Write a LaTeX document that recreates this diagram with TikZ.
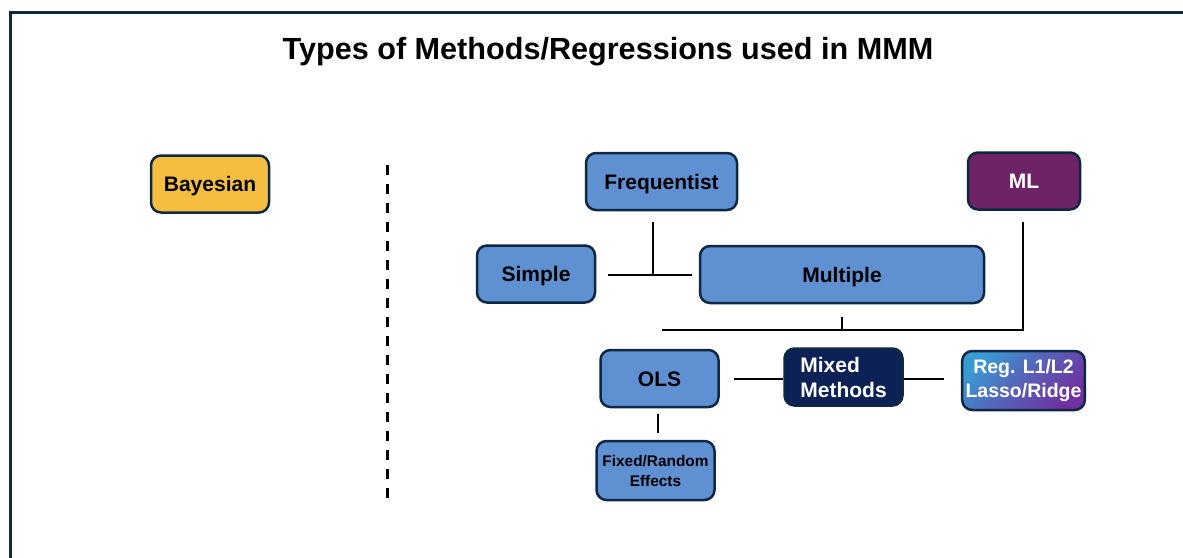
\documentclass[tikz,border=0pt]{standalone}
\usepackage{fontspec}
\setmainfont{Liberation Sans}
\usepackage{xcolor}
\usepackage{tikz}
\definecolor{navyline}{HTML}{0E2841}
\definecolor{boxblue}{HTML}{5E90D2}
\definecolor{bayesgold}{HTML}{F5BE41}
\definecolor{mlpurple}{HTML}{6E2366}
\definecolor{mixednavy}{HTML}{0C2256}
\definecolor{regblue}{HTML}{3A9BD3}
\definecolor{regpurple}{HTML}{7030A0}
\tikzstyle{base-box} = [rectangle, rounded corners=10pt,
minimum width=118pt,
minimum height=57pt,
line width=2.5pt,
text centered,
draw=navyline,
font=\bfseries\fontsize{21}{25}\selectfont]
\tikzstyle{one-line} = [text height=15pt, text depth=0pt]
\tikzstyle{blue-box} = [base-box, fill=boxblue]
\tikzstyle{gold-box} = [base-box, one-line, fill=bayesgold]
\tikzstyle{purple-box} = [base-box, one-line, fill=mlpurple, text=white]
\tikzstyle{navy-box} = [base-box, fill=mixednavy, text=white, align=left]
\tikzstyle{shaded-box} = [base-box, text=white, align=center,
top color=regblue, bottom color=regpurple, middle color=regblue!45!regpurple,
shading angle=45,
font=\bfseries\fontsize{19.5}{24}\selectfont]
\tikzstyle{small-box} = [blue-box, align=center,
font=\bfseries\fontsize{15.4}{20}\selectfont]
\tikzstyle{link} = [line width=2.5pt]
\tikzstyle{split} = [line width=3pt, dash pattern=on 10pt off 9pt]
\tikzstyle{frame} = [line width=3pt, draw=navyline]

\begin{document}
\begin{tikzpicture}[x=1pt, y=-1pt]
            \useasboundingbox (0,0) rectangle (1183,557);
            \begin{scope}
            \clip (0,0) rectangle (1183,557);
            \draw [frame] (10.5,12.5) rectangle (1250,650);
            \end{scope}

            \node (title) at (608,52) {\bfseries\fontsize{30.6}{36}\selectfont Types of Methods/Regressions used in MMM};

            \node (bayes) [gold-box] at (210,184) {Bayesian};
            \node (freq) [blue-box, one-line, minimum width=151pt] at (661.5,181.5) {Frequentist};
            \node (ml) [purple-box, minimum width=112pt] at (1024,181) {ML};
            \node (simple) [blue-box, one-line] at (536,274) {Simple};
            \node (multiple) [blue-box, one-line, minimum width=284pt] at (842,274.5) {Multiple};
            \node (ols) [blue-box, one-line] at (659.5,378.5) {OLS};
            \node (mixed) [navy-box] at (843.5,377) {Mixed\\Methods};
            \node (reg) [shaded-box, minimum height=59pt] at (1023.5,380.5) {Reg. L1/L2\\Lasso/Ridge};
            \node (fixed) [small-box, minimum height=59pt] at (655.5,470.5) {Fixed/Random\\Effects};

            \coordinate (split-top) at (387,165);
            \coordinate (split-bot) at (387,500);
            \coordinate (tee) at (653,275);
            \coordinate (bus-l) at (662,330);
            \coordinate (bus-r) at (1023,330);

            \draw [split] (split-top) -- (split-bot);
            \draw [link, shorten <=11pt] (freq.south -| tee) -- (tee);
            \draw [link, shorten <=12pt, shorten >=7pt] (simple.east |- tee) -- (multiple.west |- tee);
            \draw [link] (bus-l) -- (bus-r);
            \draw [link, shorten <=11pt, shorten >=-1pt] (ml.south -| bus-r) -- (bus-r);
            \draw [link, shorten <=13pt] (multiple.south) -- (multiple.south |- bus-l);
            \draw [link, shorten <=14pt] (ols.east |- 0,379) -- (mixed.west |- 0,379);
            \draw [link, shorten >=17pt] (mixed.east |- 0,379) -- (reg.west |- 0,379);
            \draw [link, shorten <=6pt, shorten >=7pt] (ols.south -| 658,0) -- (fixed.north -| 658,0);
        \end{tikzpicture}
\end{document}
